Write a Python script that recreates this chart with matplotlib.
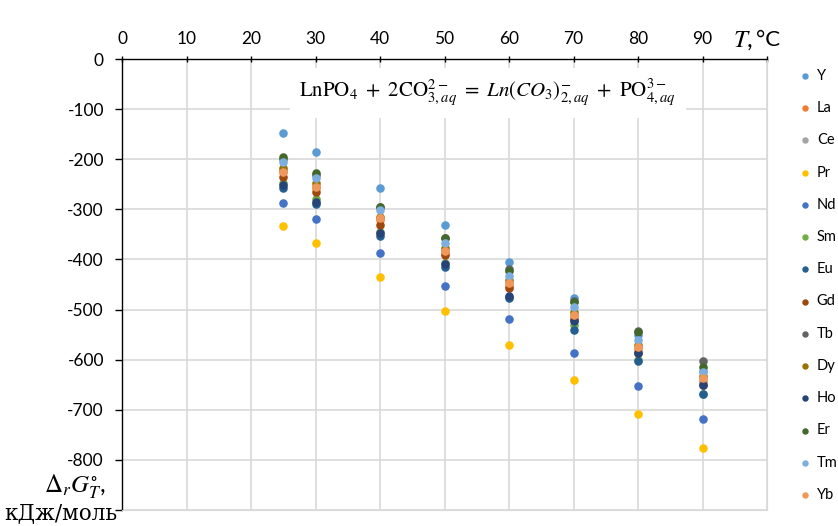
import matplotlib.pyplot as plt

plt.rcParams['font.family'] = ['Lato', 'DejaVu Sans']
plt.rcParams['mathtext.fontset'] = 'stix'

temps = [25, 30, 40, 50, 60, 70, 80, 90]

elements = ['Y', 'La', 'Ce', 'Pr', 'Nd', 'Sm', 'Eu', 'Gd', 'Tb', 'Dy', 'Ho', 'Er', 'Tm', 'Yb']
colors = ['#5B9BD5', '#ED7D31', '#A5A5A5', '#FFC000', '#4472C4', '#70AD47', '#255E91',
          '#9E480E', '#636363', '#997300', '#264478', '#43682B', '#7CAFDD', '#F1975A']

Y = [-148, -186, -258, -331, -405, -477, -550, -622]
La = [-226, -258, -322, -387, -452, -516, -580, -645]
Ce = [-222, -254, -318, -383, -447, -511, -575, -640]
Pr = [-333, -367, -435, -503, -571, -640, -708, -776]
Nd = [-287, -320, -387, -453, -519, -587, -652, -718]
Sm = [-248, -280, -345, -407, -475, -530, -600, -668]
Eu = [-258, -290, -353, -415, -477, -541, -603, -669]
Gd = [-235, -265, -331, -391, -457, -521, -586, -650]
Tb = [-200, -232, -296, -358, -420, -482, -543, -603]
Dy = [-217, -248, -315, -378, -441, -505, -570, -633]
Ho = [-252, -286, -348, -410, -472, -523, -587, -651]
Er = [-196, -228, -295, -357, -423, -485, -545, -615]
Tm = [-205, -238, -302, -367, -433, -495, -560, -625]
Yb = [-225, -255, -317, -383, -447, -511, -575, -637]

series = [Y, La, Ce, Pr, Nd, Sm, Eu, Gd, Tb, Dy, Ho, Er, Tm, Yb]

xticks = [0, 10, 20, 30, 40, 50, 60, 70, 80, 90, 100]
xlabels = ['0', '10', '20', '30', '40', '50', '60', '70', '80', '90', '']
yticks = [0, -100, -200, -300, -400, -500, -600, -700, -800, -900]
ylabels = ['0', '-100', '-200', '-300', '-400', '-500', '-600', '-700', '-800', '']

fig = plt.figure(figsize=(8.38, 5.26), dpi=100)
ax = fig.add_axes([122 / 838, 1 - 510 / 526, (767 - 122) / 838, (510 - 59) / 526])

for name, vals, c in zip(elements, series, colors):
    ax.scatter(temps, vals, s=38, color=c, label=name, zorder=3, linewidths=0)

ax.set_xlim(0, 100)
ax.set_ylim(-900, 0)
ax.set_xticks(xticks)
ax.set_xticklabels(xlabels)
ax.set_yticks(yticks)
ax.set_yticklabels(ylabels)
ax.xaxis.tick_top()
ax.tick_params(axis='both', labelsize=12.5, color='black', length=5, width=1)
ax.tick_params(axis='x', direction='inout', pad=6)
ax.tick_params(axis='y', direction='out', pad=8)
ax.grid(True, color='#D9D9D9', linewidth=1.2)
ax.set_axisbelow(True)
for s in ['bottom', 'right']:
    ax.spines[s].set_color('#D9D9D9')
for s in ['top', 'left']:
    ax.spines[s].set_color('black')
    ax.spines[s].set_linewidth(1)

ax.text(0.567, 0.925,
        r'$\mathrm{LnPO_4}\ +\ 2\mathrm{CO}_{3,aq}^{2-}\ =\ Ln(CO_3)_{2,aq}^{-}\ +\ \mathrm{PO}_{4,aq}^{3-}$',
        transform=ax.transAxes, ha='center', va='center', fontsize=15, zorder=4,
        bbox=dict(facecolor='white', edgecolor='none', pad=7))

fig.text(733 / 838, 1 - 40 / 526, r'$T$,', fontsize=18, ha='left', va='center')
fig.text(756 / 838, 1 - 40 / 526, '°C', fontsize=16, ha='left', va='center')
fig.text(75 / 838, 1 - 487 / 526, r'$\Delta_r G_T^{\circ}$,', fontsize=18, ha='center', va='center')
fig.text(61 / 838, 1 - 513 / 526, 'кДж/моль', fontsize=15.5, ha='center', va='center',
         family=['DejaVu Serif'])

fig.legend(loc='upper left', bbox_to_anchor=(792 / 838, 1 - 63 / 526), frameon=False,
           fontsize=10.5, labelspacing=1.25, handletextpad=0.3, markerscale=0.75,
           borderaxespad=0, handlelength=1)

fig.savefig('out.png', dpi=100)
